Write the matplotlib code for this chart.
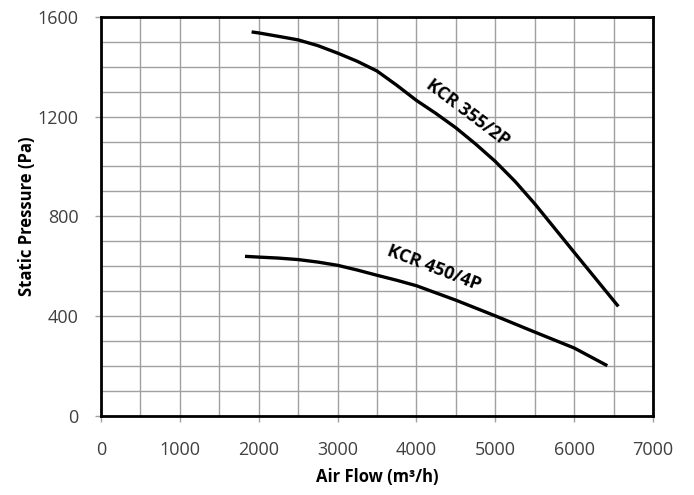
import matplotlib
matplotlib.use("Agg")
import matplotlib.pyplot as plt
from matplotlib.ticker import MultipleLocator

# KCR 355/2P curve (air flow m3/h, static pressure Pa)
flow_355 = [1910, 2000, 2290, 2500, 2750, 3000, 3250, 3500, 3750, 4000, 4250,
            4500, 4750, 5000, 5250, 5500, 6000, 6560]
pres_355 = [1540, 1536, 1520, 1508, 1485, 1455, 1422, 1383, 1326, 1265, 1212,
            1155, 1090, 1020, 940, 850, 655, 438]

# KCR 450/4P curve
flow_450 = [1826, 2000, 2250, 2500, 2750, 3000, 3250, 3500, 3750, 4000, 4250,
            4500, 5000, 5500, 6000, 6420]
pres_450 = [639, 636, 632, 626, 616, 603, 584, 563, 543, 521, 492,
            463, 400, 335, 271, 200]

x_ticks = [0, 1000, 2000, 3000, 4000, 5000, 6000, 7000]
y_ticks = [0, 400, 800, 1200, 1600]

plt.rcParams["font.family"] = ["Open Sans", "DejaVu Sans"]

fig = plt.figure(figsize=(6.94, 4.95), dpi=100)
ax = fig.add_axes([0.1455, 0.1606, 0.7955, 0.8051])

ax.plot(flow_355, pres_355, color="black", linewidth=2.4, solid_capstyle="butt")
ax.plot(flow_450, pres_450, color="black", linewidth=2.4, solid_capstyle="butt")

ax.text(4654, 1217, "KCR 355/2P", rotation=-37, ha="center", va="center",
        fontsize=13, fontweight="bold", rotation_mode="anchor")
ax.text(4223, 590, "KCR 450/4P", rotation=-21, ha="center", va="center",
        fontsize=13, fontweight="bold", rotation_mode="anchor")

ax.set_xlim(0, 7000)
ax.set_ylim(0, 1600)
ax.set_xticks(x_ticks)
ax.set_yticks(y_ticks)
ax.xaxis.set_minor_locator(MultipleLocator(500))
ax.yaxis.set_minor_locator(MultipleLocator(100))
ax.grid(which="both", color="#a0a0a0", linewidth=1.0)
ax.set_axisbelow(True)
ax.tick_params(which="major", direction="out", length=4, width=1, color="#a0a0a0",
               labelsize=13, labelcolor="#404040")
ax.tick_params(axis="x", pad=14)
ax.tick_params(axis="y", pad=12)
ax.tick_params(which="minor", length=0)
for s in ax.spines.values():
    s.set_linewidth(2)
    s.set_color("black")

ax.set_xlabel("Air Flow (m³/h)", fontsize=12, fontweight="bold", labelpad=7)
ax.set_ylabel("Static Pressure (Pa)", fontsize=12, fontweight="bold", labelpad=1)

fig.savefig("out.png", dpi=100, facecolor="white")
